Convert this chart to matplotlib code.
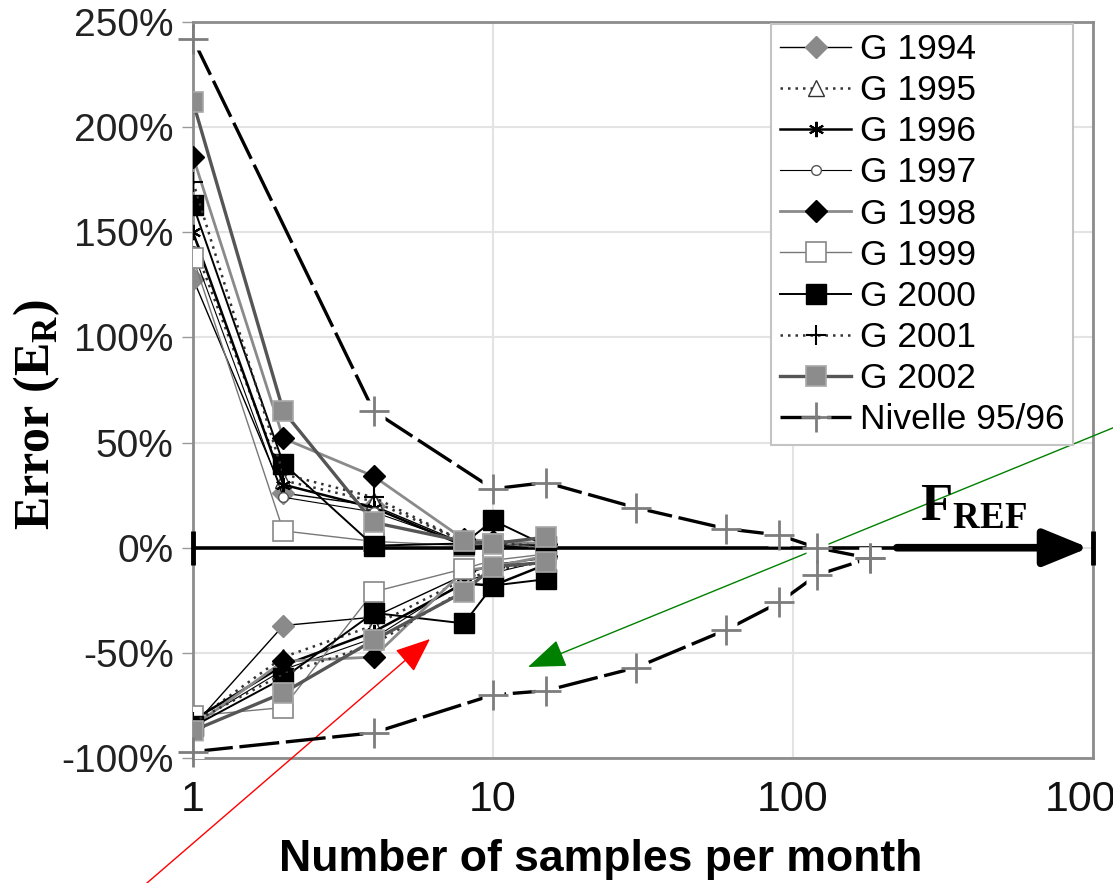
import matplotlib
matplotlib.use('Agg')
import matplotlib.pyplot as plt
from matplotlib.lines import Line2D
from matplotlib import font_manager

plt.rcParams['font.family'] = ['Liberation Sans', 'DejaVu Sans']

# narrow face for the x tick numbers if the system has it
installed = {f.name for f in font_manager.fontManager.ttflist}
narrowFont = 'Liberation Sans Narrow' if 'Liberation Sans Narrow' in installed else 'Liberation Sans'

#### DATA (error in %, per number of samples per month)
samplesG = [1, 2, 4, 8, 10, 15]
samplesNivelle = [1, 4, 10, 15, 30, 60, 90, 120, 180]

labelsG = ['G 1994', 'G 1995', 'G 1996', 'G 1997', 'G 1998',
           'G 1999', 'G 2000', 'G 2001', 'G 2002']

up1994 = [128, 26, 20, 2, 1, 1]
low1994 = [-85, -37, -33, -13, -8, -5]
up1995 = [145, 32, 22, 3, 2, 0]
low1995 = [-83, -52, -37, -15, -11, -6]
up1996 = [150, 30, 19, 1, 1, 1]
low1996 = [-82, -56, -40, -17, -18, -8]
up1997 = [141, 24, 17, 2, 3, 1]
low1997 = [-84, -58, -43, -16, -12, -6]
up1998 = [186, 52, 34, 4, 3, 2]
low1998 = [-85, -54, -52, -11, -9, -4]
up1999 = [138, 8, 3, 1, 2, 0]
low1999 = [-80, -76, -21, -10, -6, -3]
up2000 = [163, 40, 1, 2, 13, 1]
low2000 = [-85, -62, -31, -36, -18, -15]
up2001 = [174, 35, 24, 3, 2, 1]
low2001 = [-83, -60, -46, -20, -10, -7]
up2002 = [212, 65, 12, 3, 2, 5]
low2002 = [-87, -69, -44, -21, -9, -7]

nivelleUp = [242, 65, 28, 31, 19, 9, 6, 0, -5]
nivelleLow = [-97, -88, -70, -68, -57, -39, -26, -13, -5]

yTicks = [-100, -50, 0, 50, 100, 150, 200, 250]
xTicks = [1, 10, 100, 1000]

upperG = [up1994, up1995, up1996, up1997, up1998, up1999, up2000, up2001, up2002]
lowerG = [low1994, low1995, low1996, low1997, low1998, low1999, low2000, low2001, low2002]

#### LINE / MARKER STYLES FOR EACH YEAR
stylesG = [
    dict(color='black', lw=1.0, ls='-', marker='D', ms=11, mfc='#8a8a8a', mec='#8a8a8a', mew=1),
    dict(color='#333333', lw=1.8, ls=(0, (1, 2)), marker='^', ms=12, mfc='white', mec='#333333', mew=1),
    dict(color='black', lw=1.8, ls='-', marker=(6, 2, 0), ms=11, mfc='black', mec='black', mew=1.5),
    dict(color='black', lw=0.8, ls='-', marker='o', ms=7, mfc='white', mec='#555555', mew=1),
    dict(color='#8a8a8a', lw=2.0, ls='-', marker='D', ms=11, mfc='black', mec='black', mew=1),
    dict(color='#777777', lw=1.0, ls='-', marker='s', ms=14, mfc='white', mec='#888888', mew=1.2),
    dict(color='black', lw=1.4, ls='-', marker='s', ms=14, mfc='black', mec='black', mew=1),
    dict(color='#333333', lw=1.8, ls=(0, (1, 2)), marker='+', ms=14, mfc='black', mec='black', mew=1.5),
    dict(color='#555555', lw=2.4, ls='-', marker='s', ms=14, mfc='#8c8c8c', mec='#a8a8a8', mew=1.2),
]

fig = plt.figure(figsize=(11.13, 8.83), dpi=100)
ax = fig.add_axes([193/1113, 125/883, 900/1113, 736/883])

#### G SERIES (upper and lower error branches)
for label, up, low, st in zip(labelsG, upperG, lowerG, stylesG):
    ax.plot(samplesG, up, label=label, zorder=3, **st)
    ax.plot(samplesG, low, zorder=3, **st)

#### REFERENCE LINE F_REF
ax.plot([1, 222], [0, 0], color='black', lw=2.6, zorder=2.8)
ax.annotate('', xy=(1000, 0), xytext=(222, 0),
            arrowprops=dict(arrowstyle='-|>,head_length=1.1,head_width=0.45',
                            mutation_scale=25, lw=5.5, color='black',
                            shrinkA=0, shrinkB=3), zorder=6)
ax.plot([1, 1000], [0, 0], ls='none', marker='|', ms=25, mew=3.5,
        color='black', clip_on=False, zorder=7)
ax.text(265, 13, r'F$_\mathregular{REF}$', family=['Liberation Serif', 'DejaVu Serif'],
        weight='bold', fontsize=38, va='baseline', ha='left', zorder=7)

#### NIVELLE 95/96
for vals in (nivelleUp, nivelleLow):
    ax.plot(samplesNivelle, vals, color='black', lw=2.4, dashes=(12, 2), zorder=3.5)
    ax.plot(samplesNivelle, vals, ls='none', marker='s', ms=16, mfc='white', mec='none', zorder=4)
    ax.plot(samplesNivelle, vals, ls='none', marker='+', ms=22, mew=2,
            color='#7d7d7d', zorder=5, clip_on=False)
nivelleHandle = Line2D([], [], color='black', lw=2.4, dashes=(12, 2), marker='+',
                       ms=22, mew=2, mec='#7d7d7d')

#### AXES
ax.set_xscale('log')
ax.set_xlim(1, 1000)
ax.set_ylim(-100, 250)
ax.set_xticks(xTicks)
ax.set_xticklabels([str(v) for v in xTicks], family=narrowFont)
ax.xaxis.set_minor_locator(plt.NullLocator())
ax.set_yticks(yTicks)
ax.set_yticklabels([f'{v}%' for v in yTicks])
ax.tick_params(axis='y', direction='out', length=8, width=1, color='#999999',
               labelsize=28, pad=6, labelcolor='#222222')
ax.tick_params(axis='x', length=0, labelsize=31, pad=16, labelcolor='#111111')
ax.grid(True, color='#e3e3e3', lw=1.5, zorder=0)
ax.set_axisbelow(True)
for sp in ax.spines.values():
    sp.set_color('#8c8c8c')
    sp.set_linewidth(2)

ax.set_xlabel('Number of samples per month', fontsize=32, weight='bold')
ax.xaxis.set_label_coords(0.453, -0.11)
ax.set_ylabel(r'Error (E$_\mathregular{R}$)', family=['Liberation Serif', 'DejaVu Serif'],
              weight='bold', fontsize=36)
ax.yaxis.set_label_coords(-0.146, 0.466)

#### LEGEND
handles, labels = ax.get_legend_handles_labels()
handles.append(nivelleHandle)
labels.append('Nivelle 95/96')
leg = ax.legend(handles, labels, loc='upper right', bbox_to_anchor=(0.978, 0.997),
                borderaxespad=0, fontsize=25.5, labelspacing=0.23, handlelength=2.0,
                handletextpad=0.25, borderpad=0.25, fancybox=False, framealpha=1,
                edgecolor='#c4c4c4')
leg.get_frame().set_linewidth(1.5)
leg.set_zorder(8)

#### POINTER ARROWS
ax.annotate('', xy=(430, 244), xycoords='figure pixels', xytext=(140, -6),
            textcoords='figure pixels', annotation_clip=False,
            arrowprops=dict(arrowstyle='-|>,head_length=1.1,head_width=0.45',
                            mutation_scale=20, lw=1, color='red', shrinkA=0, shrinkB=0))
ax.annotate('', xy=(528, 216), xycoords='figure pixels', xytext=(1120, 458),
            textcoords='figure pixels', annotation_clip=False,
            arrowprops=dict(arrowstyle='-|>,head_length=1.2,head_width=0.45',
                            mutation_scale=20, lw=1, color='#008000', shrinkA=0, shrinkB=0))

fig.savefig('out.png', dpi=100)
